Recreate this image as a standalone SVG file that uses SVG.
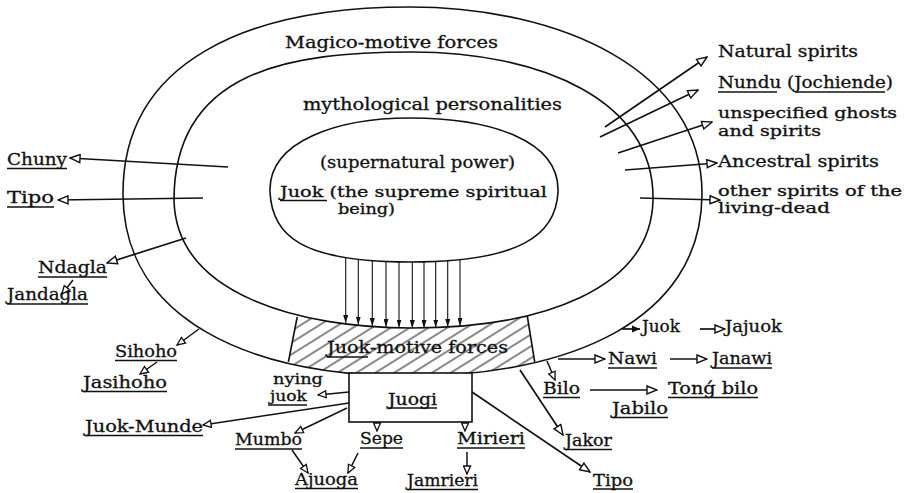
<svg xmlns="http://www.w3.org/2000/svg" width="914" height="493" viewBox="0 0 914 493">
<defs>
<style>
text{font-family:"DejaVu Serif","Liberation Serif",serif;font-size:16px;fill:#111;stroke:#111;stroke-width:0.3}
text.two{font-size:14.5px}
.ring{fill:none;stroke:#111;stroke-width:1.6}
.ul{stroke:#111;stroke-width:1.3}
.c{fill:none;stroke:#111;stroke-width:1.7}
.cs{fill:none;stroke:#111;stroke-width:1.5}
.v{fill:none;stroke:#111;stroke-width:1.1}
</style>
<marker id="open" viewBox="0 0 12 10" refX="11" refY="5" markerWidth="12" markerHeight="10" markerUnits="userSpaceOnUse" orient="auto">
<path d="M1,1 L11,5 L1,9 Z" fill="#fff" stroke="#111" stroke-width="1.4"/>
</marker>
<marker id="openS" viewBox="0 0 10 9" refX="9" refY="4.5" markerWidth="10" markerHeight="9" markerUnits="userSpaceOnUse" orient="auto">
<path d="M1,1 L9,4.5 L1,8 Z" fill="#fff" stroke="#111" stroke-width="1.3"/>
</marker>
<marker id="fill" viewBox="0 0 8 5" refX="8" refY="2.5" markerWidth="8" markerHeight="5" markerUnits="userSpaceOnUse" orient="auto">
<path d="M0,0 L8,2.5 L0,5 Z" fill="#111"/>
</marker>
<marker id="blob" viewBox="0 0 8 8" refX="8" refY="4" markerWidth="8" markerHeight="8" markerUnits="userSpaceOnUse" orient="auto">
<path d="M0,0.5 L8,4 L0,7.5 Z" fill="#111"/>
</marker>
<pattern id="hatch" patternUnits="userSpaceOnUse" width="20" height="10" patternTransform="rotate(-32)">
<line x1="0" y1="5" x2="20" y2="5" stroke="#111" stroke-width="1"/>
</pattern>
<clipPath id="hclip"><polygon points="300.6,300 524.7,300 539.4,390 282.6,390"/></clipPath>
</defs>
<rect width="914" height="493" fill="#fff"/>

<g id="juok-motive-forces">
<path d="M123,195 C122,60 250,7 410,7 C560,7 703,70 702,195 C701,320 570,376 410,376 C250,376 124,320 123,195 Z M174,200 C174,70 290,52 412,52 C540,52 655,100 653,200 C651,290 540,328 412,328 C300,328 176,295 174,200 Z" fill-rule="evenodd" fill="url(#hatch)" clip-path="url(#hclip)"/>
<line class="ring" x1="297.2" y1="317" x2="288.4" y2="362"/>
<line class="ring" x1="527.3" y1="316" x2="534.7" y2="362"/>
<text x="327" y="353" textLength="181" lengthAdjust="spacingAndGlyphs">Juok-motive forces</text>
<line class="ul" x1="327" y1="357" x2="368" y2="357"/>
</g>

<g id="magico-motive-forces">
<path class="ring" d="M123,195 C122,60 250,7 410,7 C560,7 703,70 702,195 C701,320 570,376 410,376 C250,376 124,320 123,195 Z"/>
<text x="285" y="48" textLength="213" lengthAdjust="spacingAndGlyphs">Magico-motive forces</text>
</g>

<g id="mythological-personalities">
<path class="ring" d="M174,200 C174,70 290,52 412,52 C540,52 655,100 653,200 C651,290 540,328 412,328 C300,328 176,295 174,200 Z"/>
<text x="303" y="110" textLength="259" lengthAdjust="spacingAndGlyphs">mythological personalities</text>
</g>

<g id="juok">
<path class="ring" d="M270,192 C268,140 340,118 410,118 C490,118 560,140 558,192 C556,235 520,262 410,262 C300,262 272,235 270,192 Z"/>
<text x="320" y="168" textLength="195" lengthAdjust="spacingAndGlyphs">(supernatural power)</text>
<text class="two" x="280" y="197" textLength="267" lengthAdjust="spacingAndGlyphs">Juok (the supreme spiritual</text>
<line class="ul" x1="280" y1="200.5" x2="327" y2="200.5"/>
<text class="two" x="338" y="214" textLength="57" lengthAdjust="spacingAndGlyphs">being)</text>
</g>

<g id="juogi">
<rect x="349" y="373" width="123" height="49" fill="#fff" stroke="#111" stroke-width="1.6"/>
<text x="388" y="405" textLength="49" lengthAdjust="spacingAndGlyphs">Juogi</text>
<line class="ul" x1="388" y1="408" x2="437" y2="408"/>
</g>

<g id="natural-spirits"><text x="718" y="57" textLength="140" lengthAdjust="spacingAndGlyphs">Natural spirits</text></g>
<g id="nundu">
<text x="718" y="88" textLength="175" lengthAdjust="spacingAndGlyphs">Nundu (Jochiende)</text>
<line class="ul" x1="718" y1="92" x2="777" y2="92"/>
<line class="ul" x1="795" y1="92" x2="885" y2="92"/>
</g>
<g id="unspecified">
<text class="two" x="718" y="118" textLength="179" lengthAdjust="spacingAndGlyphs">unspecified ghosts</text>
<text class="two" x="718" y="136" textLength="103" lengthAdjust="spacingAndGlyphs">and spirits</text>
</g>
<g id="ancestral"><text x="718" y="167" textLength="161" lengthAdjust="spacingAndGlyphs">Ancestral spirits</text></g>
<g id="living-dead">
<text class="two" x="718" y="196" textLength="184" lengthAdjust="spacingAndGlyphs">other spirits of the</text>
<text class="two" x="718" y="213" textLength="112" lengthAdjust="spacingAndGlyphs">living-dead</text>
</g>

<g id="chuny"><text x="7" y="165" textLength="60" lengthAdjust="spacingAndGlyphs">Chuny</text><line class="ul" x1="7" y1="168.5" x2="67" y2="168.5"/></g>
<g id="tipo-left"><text x="7" y="203" textLength="47" lengthAdjust="spacingAndGlyphs">Tipo</text><line class="ul" x1="7" y1="207" x2="54" y2="207"/></g>
<g id="ndagla"><text x="38" y="273" textLength="69" lengthAdjust="spacingAndGlyphs">Ndagla</text><line class="ul" x1="38" y1="277" x2="107" y2="277"/></g>
<g id="jandagla"><text x="7" y="300" textLength="81" lengthAdjust="spacingAndGlyphs">Jandagla</text><line class="ul" x1="7" y1="304" x2="88" y2="304"/></g>
<g id="sihoho"><text x="115" y="357" textLength="62" lengthAdjust="spacingAndGlyphs">Sihoho</text><line class="ul" x1="115" y1="360.5" x2="177" y2="360.5"/></g>
<g id="jasihoho"><text x="83" y="388" textLength="84" lengthAdjust="spacingAndGlyphs">Jasihoho</text><line class="ul" x1="83" y1="391.5" x2="167" y2="391.5"/></g>
<g id="nying-juok">
<text class="two" x="273" y="384" textLength="50" lengthAdjust="spacingAndGlyphs">nying</text>
<text class="two" x="270" y="401" textLength="37" lengthAdjust="spacingAndGlyphs">juok</text>
<line class="ul" x1="268" y1="405" x2="307" y2="405"/>
</g>
<g id="juok-munde"><text x="85" y="432" textLength="118" lengthAdjust="spacingAndGlyphs">Juok-Munde</text><line class="ul" x1="85" y1="435.5" x2="203" y2="435.5"/></g>
<g id="mumbo"><text x="235" y="445" textLength="67" lengthAdjust="spacingAndGlyphs">Mumbo</text><line class="ul" x1="235" y1="449" x2="302" y2="449"/></g>
<g id="sepe"><text x="360" y="444" textLength="43" lengthAdjust="spacingAndGlyphs">Sepe</text><line class="ul" x1="360" y1="448" x2="403" y2="448"/></g>
<g id="mirieri"><text x="457" y="444" textLength="68" lengthAdjust="spacingAndGlyphs">Mirieri</text><line class="ul" x1="457" y1="448" x2="525" y2="448"/></g>
<g id="ajuoga"><text x="295" y="485" textLength="63" lengthAdjust="spacingAndGlyphs">Ajuoga</text><line class="ul" x1="295" y1="488.5" x2="358" y2="488.5"/></g>
<g id="jamrieri"><text x="407" y="486" textLength="71" lengthAdjust="spacingAndGlyphs">Jamrieri</text><line class="ul" x1="407" y1="489.5" x2="478" y2="489.5"/></g>
<g id="juok-right"><text x="642" y="332" textLength="38" lengthAdjust="spacingAndGlyphs">Juok</text></g>
<g id="jajuok"><text x="725" y="332" textLength="57" lengthAdjust="spacingAndGlyphs">Jajuok</text></g>
<g id="nawi"><text x="608" y="364" textLength="49" lengthAdjust="spacingAndGlyphs">Nawi</text><line class="ul" x1="608" y1="368" x2="657" y2="368"/></g>
<g id="janawi"><text x="712" y="364" textLength="60" lengthAdjust="spacingAndGlyphs">Janawi</text><line class="ul" x1="712" y1="368" x2="772" y2="368"/></g>
<g id="bilo"><text x="543" y="394" textLength="37" lengthAdjust="spacingAndGlyphs">Bilo</text><line class="ul" x1="543" y1="397.5" x2="580" y2="397.5"/></g>
<g id="tong-bilo"><text x="668" y="394" textLength="90" lengthAdjust="spacingAndGlyphs">Tonǵ bilo</text><line class="ul" x1="668" y1="397.5" x2="758" y2="397.5"/></g>
<g id="jabilo"><text x="612" y="414" textLength="56" lengthAdjust="spacingAndGlyphs">Jabilo</text><line class="ul" x1="612" y1="417.5" x2="668" y2="417.5"/></g>
<g id="jakor"><text x="565" y="446" textLength="47" lengthAdjust="spacingAndGlyphs">Jakor</text><line class="ul" x1="565" y1="449.5" x2="612" y2="449.5"/></g>
<g id="tipo-right"><text x="593" y="486" textLength="40" lengthAdjust="spacingAndGlyphs">Tipo</text><line class="ul" x1="593" y1="489" x2="633" y2="489"/></g>

<g id="connectors">
<g marker-end="url(#fill)">
<line class="v" x1="345.7" y1="257.5" x2="345.7" y2="323"/>
<line class="v" x1="358.3" y1="259.5" x2="358.3" y2="324.5"/>
<line class="v" x1="372.3" y1="261" x2="372.3" y2="326"/>
<line class="v" x1="386" y1="261.7" x2="386" y2="327"/>
<line class="v" x1="399" y1="262" x2="399" y2="327.5"/>
<line class="v" x1="412.3" y1="262" x2="412.3" y2="328"/>
<line class="v" x1="424" y1="262" x2="424" y2="328"/>
<line class="v" x1="435.7" y1="261.5" x2="435.7" y2="327.5"/>
<line class="v" x1="447.7" y1="261" x2="447.7" y2="327"/>
<line class="v" x1="460" y1="260" x2="460" y2="326"/>
</g>
<g marker-end="url(#open)">
<line class="c" x1="605" y1="127" x2="707" y2="57"/>
<line class="c" x1="600" y1="137" x2="698" y2="90"/>
<line class="c" x1="618" y1="153" x2="712" y2="122"/>
<line class="c" x1="625" y1="170" x2="717" y2="163"/>
<line class="c" x1="640" y1="198" x2="720" y2="200"/>
<line class="c" x1="228" y1="167" x2="70" y2="158"/>
<line class="c" x1="203" y1="198" x2="58" y2="200"/>
<line class="c" x1="186" y1="238" x2="107" y2="263"/>
<line class="c" x1="472" y1="392" x2="590" y2="472"/>
<line class="c" x1="520" y1="370" x2="563" y2="435"/>
<line class="c" x1="558" y1="359" x2="605" y2="359"/>
<line class="c" x1="670" y1="359" x2="707" y2="359"/>
<line class="c" x1="590" y1="390" x2="657" y2="390"/>
<line class="c" x1="700" y1="329" x2="725" y2="329"/>
</g>
<g marker-end="url(#openS)">
<line class="cs" x1="73" y1="280" x2="62" y2="294"/>
<line class="cs" x1="199" y1="329" x2="177" y2="345"/>
<line class="cs" x1="157" y1="362" x2="140" y2="374"/>
<line class="cs" x1="349" y1="392" x2="318" y2="395"/>
<line class="cs" x1="349" y1="403" x2="203" y2="425"/>
<line class="cs" x1="347" y1="408" x2="295" y2="433"/>
<line class="cs" x1="292" y1="450" x2="308" y2="473"/>
<line class="cs" x1="358" y1="453" x2="348" y2="473"/>
<line class="cs" x1="377" y1="422" x2="377" y2="431"/>
<line class="cs" x1="465" y1="422" x2="465" y2="431"/>
<line class="cs" x1="467" y1="452" x2="467" y2="474"/>
<line class="cs" x1="547" y1="361" x2="555" y2="380"/>
</g>
<line class="c" x1="622" y1="329" x2="640" y2="329" marker-end="url(#blob)"/>
</g>
</svg>
